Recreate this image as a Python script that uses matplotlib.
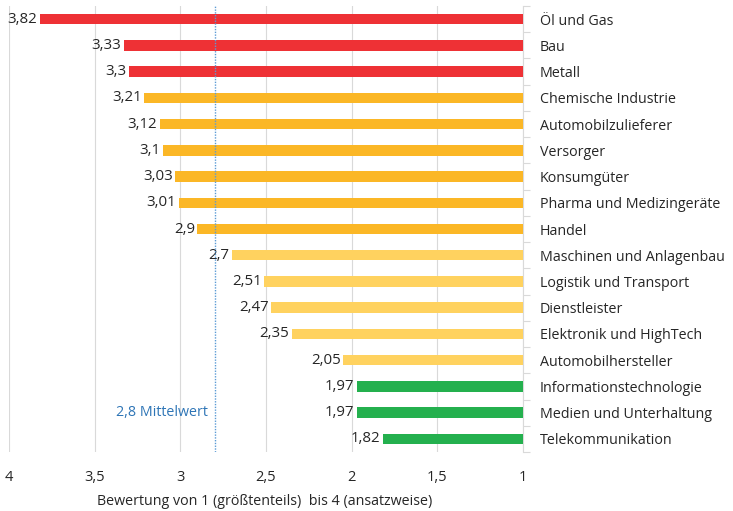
import matplotlib
matplotlib.use('Agg')
import matplotlib.pyplot as plt

# Data
branchen = ['Öl und Gas', 'Bau', 'Metall', 'Chemische Industrie', 'Automobilzulieferer',
            'Versorger', 'Konsumgüter', 'Pharma und Medizingeräte', 'Handel',
            'Maschinen und Anlagenbau', 'Logistik und Transport', 'Dienstleister',
            'Elektronik und HighTech', 'Automobilhersteller', 'Informationstechnologie',
            'Medien und Unterhaltung', 'Telekommunikation']
werte = [3.82, 3.33, 3.3, 3.21, 3.12, 3.1, 3.03, 3.01, 2.9, 2.7, 2.51, 2.47, 2.35,
         2.05, 1.97, 1.97, 1.82]
gruppe = ['r', 'r', 'r', 'o', 'o', 'o', 'o', 'o', 'o', 'y', 'y', 'y', 'y', 'y', 'g', 'g', 'g']
mittelwert = 2.8
xticks = [4, 3.5, 3, 2.5, 2, 1.5, 1]

farben = {'r': '#EE3135', 'o': '#FBB726', 'y': '#FFD25F', 'g': '#24B04E'}
plt.rcParams['font.family'] = ['Open Sans', 'DejaVu Sans']
txt = '#262626'


def komma(v):
    return f'{v:g}'.replace('.', ',')


fig = plt.figure(figsize=(7.33, 5.11), dpi=100)
ax = fig.add_axes([9/733, 1-452/511, 514/733, 446/511])

ypos = list(range(len(branchen)))
ax.barh(ypos, [w - 1 for w in werte], left=1, height=0.4,
        color=[farben[g] for g in gruppe], zorder=3)
for y, w in zip(ypos, werte):
    ax.text(w + 0.015, y, komma(w), ha='right', va='center',
            fontsize=10.8, color=txt)

ax.set_xlim(4, 1)
ax.set_ylim(len(branchen) - 0.5, -0.5)
ax.set_xticks(xticks)
ax.set_xticklabels([komma(t) for t in xticks], fontsize=10.5, color=txt)
ax.tick_params(axis='x', length=0, pad=13)
ax.grid(axis='x', color='#D9D9D9', linewidth=0.8, zorder=0)

ax.yaxis.tick_right()
ax.set_yticks(ypos)
ax.set_yticklabels(branchen, fontsize=10.3, color=txt)
ax.set_yticks([y + 0.5 for y in ypos[:-1]] + [-0.5, len(branchen) - 0.5], minor=True)
ax.tick_params(axis='y', which='major', length=0, pad=12)
ax.tick_params(axis='y', which='minor', length=5, color='#D9D9D9', width=0.8)

for s in ['top', 'bottom', 'left']:
    ax.spines[s].set_visible(False)
ax.spines['right'].set_color('#D9D9D9')
ax.spines['right'].set_linewidth(0.8)

ax.axvline(mittelwert, color='#5B9BD5', linestyle=(0, (1, 1)), linewidth=1, zorder=4)
ax.text(mittelwert + 0.04, 15, komma(mittelwert) + ' Mittelwert',
        ha='right', va='center', fontsize=10.3, color='#2E75B6')

ax.set_xlabel('Bewertung von 1 (größtenteils)  bis 4 (ansatzweise)', fontsize=10.3,
              color=txt)
ax.xaxis.set_label_coords(0.497, -0.095)

fig.savefig('out.png', dpi=100)
